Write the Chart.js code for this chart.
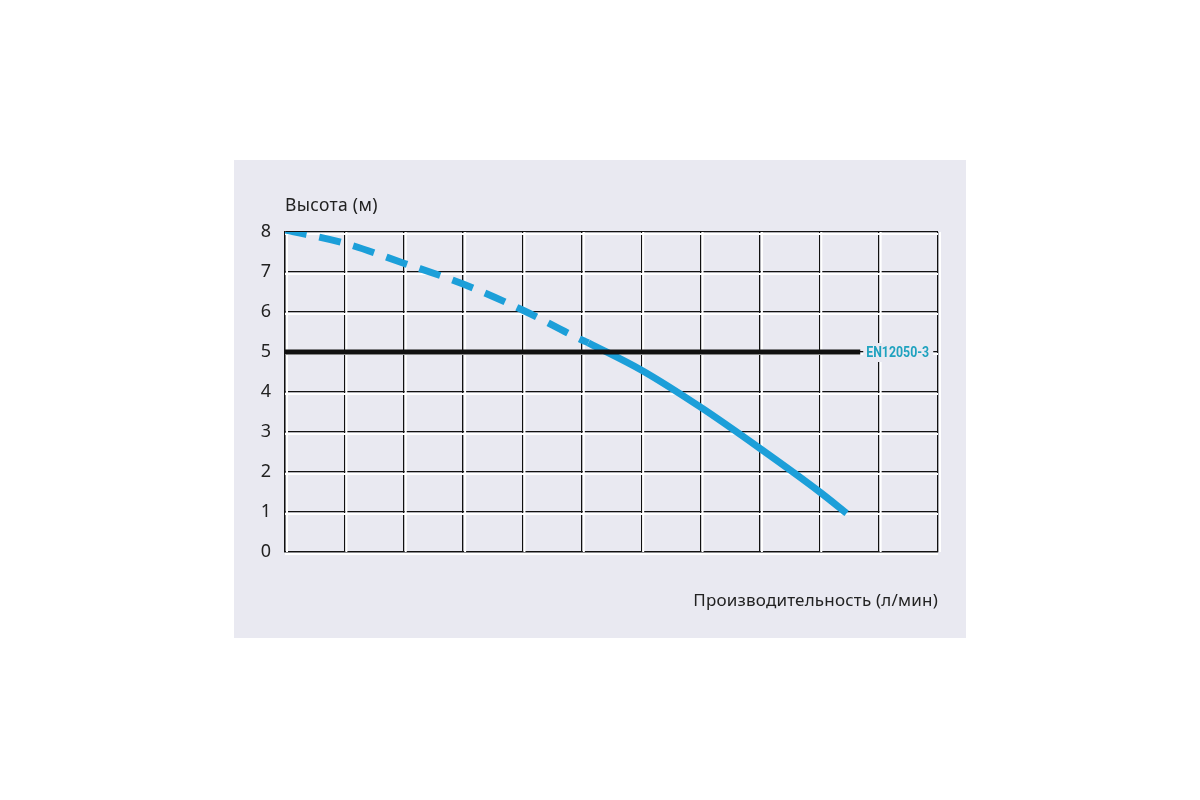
<!DOCTYPE html>
<html>
<head>
    <title>Pump curve</title>
    <script src="https://cdn.jsdelivr.net/npm/chart.js"></script>
    <style>
        body {
            margin: 0;
            background: #ffffff;
            width: 1200px;
            height: 800px;
            position: relative;
            font-family: "Noto Sans", sans-serif;
        }
        .panel {
            position: absolute;
            left: 234px;
            top: 160px;
            width: 732px;
            height: 478px;
            background-color: #e9e9f1;
        }
        .panel canvas {
            position: absolute;
            left: 0;
            top: 0;
        }
        .ytitle {
            position: absolute;
            left: 51px;
            top: 32px;
            font-size: 17.5px;
            letter-spacing: 0.3px;
            color: #222;
        }
        .xtitle {
            position: absolute;
            right: 28px;
            top: 428px;
            font-size: 17px;
            letter-spacing: 0.2px;
            color: #222;
        }
    </style>
</head>
<body>
    <div class="panel">
        <canvas id="pumpChart" width="732" height="478"></canvas>
        <div class="ytitle">Высота (м)</div>
        <div class="xtitle">Производительность (л/мин)</div>
    </div>
    <script>
        // curve (x in grid columns, y in metres)
        const dashedX = [0, 1, 2, 3, 4, 5, 5.11];
        const dashedY = [8.05, 7.72, 7.22, 6.7, 6.05, 5.3, 5.23];
        const solidX = [5.11, 6, 7, 8, 9, 9.46];
        const solidY = [5.23, 4.55, 3.62, 2.59, 1.51, 0.97];
        const normX = [0, 9.69];
        const normY = [5, 5];
        const normLabel = 'EN12050-3';
        const yTicks = [0, 1, 2, 3, 4, 5, 6, 7, 8];

        const toPoints = (xs, ys) => xs.map((x, i) => ({ x: x, y: ys[i] }));

        // white highlight next to every grid line
        const gridShadow = {
            id: 'gridShadow',
            beforeDatasetsDraw(chart) {
                const ctx = chart.ctx;
                const area = chart.chartArea;
                const xs = chart.scales.x;
                const ys = chart.scales.y;
                ctx.save();
                ctx.strokeStyle = '#ffffff';
                ctx.lineWidth = 2;
                for (let v = 0; v <= 11; v++) {
                    const px = xs.getPixelForValue(v) + 2;
                    ctx.beginPath();
                    ctx.moveTo(px, area.top);
                    ctx.lineTo(px, area.bottom);
                    ctx.stroke();
                }
                yTicks.forEach(v => {
                    const py = ys.getPixelForValue(v) + 2;
                    ctx.beginPath();
                    ctx.moveTo(area.left, py);
                    ctx.lineTo(area.right, py);
                    ctx.stroke();
                });
                ctx.restore();
            }
        };

        // label at the end of the norm line, on a patch of panel colour
        const normText = {
            id: 'normText',
            afterDatasetsDraw(chart) {
                const ctx = chart.ctx;
                const px = chart.scales.x.getPixelForValue(normX[1]);
                const py = chart.scales.y.getPixelForValue(normY[1]);
                ctx.save();
                ctx.fillStyle = '#e9e9f1';
                ctx.fillRect(px + 3, py - 9, 70, 19);
                ctx.translate(px + 6, py + 1);
                ctx.scale(0.88, 1);
                ctx.font = 'bold 14px "Roboto", sans-serif';
                ctx.fillStyle = '#1fa2bf';
                ctx.textBaseline = 'middle';
                ctx.fillText(normLabel, 0, 0);
                ctx.restore();
            }
        };

        const ctx = document.getElementById('pumpChart').getContext('2d');
        const pumpChart = new Chart(ctx, {
            type: 'line',
            data: {
                datasets: [
                    {
                        label: 'norm',
                        data: toPoints(normX, normY),
                        borderColor: '#111111',
                        borderWidth: 5,
                        pointRadius: 0
                    },
                    {
                        label: 'dashed',
                        data: toPoints(dashedX, dashedY),
                        borderColor: '#1c9fd9',
                        borderWidth: 7,
                        borderDash: [22, 13],
                        cubicInterpolationMode: 'monotone',
                        pointRadius: 0
                    },
                    {
                        label: 'solid',
                        data: toPoints(solidX, solidY),
                        borderColor: '#1c9fd9',
                        borderWidth: 7,
                        cubicInterpolationMode: 'monotone',
                        pointRadius: 0
                    }
                ]
            },
            plugins: [gridShadow, normText],
            options: {
                responsive: false,
                animation: false,
                layout: { padding: { left: 0, top: 72, right: 28, bottom: 86 } },
                plugins: {
                    legend: { display: false },
                    tooltip: { enabled: false }
                },
                scales: {
                    x: {
                        type: 'linear',
                        min: 0,
                        max: 11,
                        ticks: { display: false, stepSize: 1 },
                        grid: { color: '#111111', lineWidth: 1.3, drawTicks: false },
                        border: { color: '#111111', width: 1.3 },
                        afterFit(scale) { scale.height = 0; }
                    },
                    y: {
                        min: 0,
                        max: 8,
                        afterBuildTicks(scale) { scale.ticks = yTicks.map(v => ({ value: v })); },
                        ticks: {
                            padding: 14,
                            color: '#222222',
                            font: { family: '"Noto Sans", sans-serif', size: 18 }
                        },
                        grid: { color: '#111111', lineWidth: 1.3, drawTicks: false },
                        border: { color: '#111111', width: 1.3 },
                        afterFit(scale) { scale.width = 51; }
                    }
                }
            }
        });
    </script>
</body>
</html>
